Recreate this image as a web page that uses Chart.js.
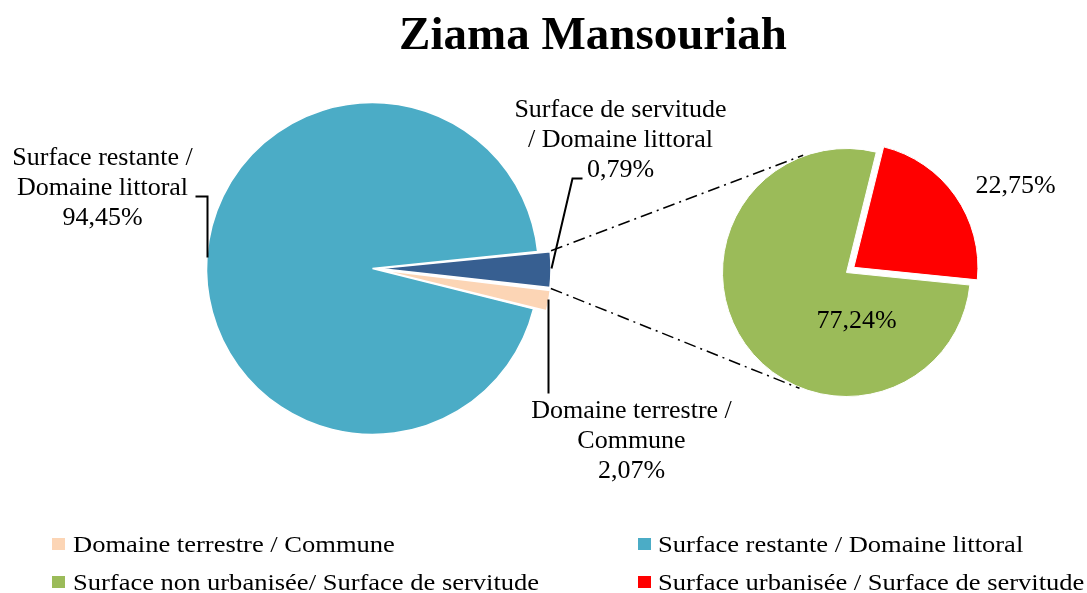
<!DOCTYPE html>
<html>
<head>
<meta charset="utf-8">
<script src="https://cdn.jsdelivr.net/npm/chart.js@4.4.1/dist/chart.umd.min.js"></script>
<style>
html,body{margin:0;padding:0;background:#fff;}
#wrap{position:relative;width:1087px;height:593px;overflow:hidden;font-family:"Liberation Serif","Times New Roman",serif;color:#000;}
canvas{position:absolute;left:0;top:0;}
#title{position:absolute;left:593px;top:10px;transform:translateX(-50%);white-space:nowrap;font-weight:bold;font-size:47px;line-height:47px;}
.lt{position:absolute;white-space:nowrap;font-size:24px;line-height:24px;transform:scaleX(1.105);transform-origin:0 0;}
.lm{position:absolute;width:13px;height:12px;}
</style>
</head>
<body>
<div id="wrap">
  <canvas id="mainPie" width="1087" height="593"></canvas>
  <canvas id="subPie" width="1087" height="593"></canvas>
  <div id="title"></div>
  <div id="legend"></div>
</div>
<script>
// ---------- data ----------
const titleText = 'Ziama Mansouriah';

// main pie (slice order clockwise from the right-hand side)
const mainCategories = ['Surface de servitude / Domaine littoral', 'Domaine terrestre / Commune', 'Surface restante / Domaine littoral'];
const mainValues = [3.48, 2.07, 94.45];
const mainPctLabels = ['0,79%', '2,07%', '94,45%'];
const mainColors = ['#375F91', '#FCD5B5', '#4BACC6'];

// secondary pie (breakdown of "Surface de servitude")
const subCategories = ['Surface urbanisée / Surface de servitude', 'Surface non urbanisée/ Surface de servitude'];
const subValues = [22.75, 77.24];
const subPctLabels = ['22,75%', '77,24%'];
const subColors = ['#FF0000', '#9BBB59'];

// legend entries (in the reference order)
const legendLabels = ['Domaine terrestre / Commune', 'Surface restante / Domaine littoral', 'Surface non urbanisée/ Surface de servitude', 'Surface urbanisée / Surface de servitude'];
const legendColors = ['#FCD5B5', '#4BACC6', '#9BBB59', '#FF0000'];

// ---------- layout ----------
const W = 1087, H = 593;
const mainOffsets = [28, 28, 0];
const subOffsets = [36, 0];
const labelFont = '26px "Liberation Serif", "Times New Roman", serif';
const lineH = 30;

document.getElementById('title').textContent = titleText;

// legend (HTML text)
const legendPos = [
  {mx: 52, my: 538, tx: 73, ty: 532},
  {mx: 638, my: 538, tx: 658, ty: 532},
  {mx: 52, my: 576, tx: 73, ty: 570},
  {mx: 638, my: 576, tx: 658, ty: 570}
];
const legEl = document.getElementById('legend');
legendLabels.forEach((lab, i) => {
  const p = legendPos[i];
  const m = document.createElement('div');
  m.className = 'lm';
  m.style.left = p.mx + 'px'; m.style.top = p.my + 'px';
  m.style.background = legendColors[i];
  legEl.appendChild(m);
  const t = document.createElement('div');
  t.className = 'lt';
  t.style.left = p.tx + 'px'; t.style.top = p.ty + 'px';
  t.textContent = lab;
  legEl.appendChild(t);
});

function drawLines(ctx, lines, cx, cy) {
  ctx.save();
  ctx.font = labelFont;
  ctx.fillStyle = '#000';
  ctx.textAlign = 'center';
  ctx.textBaseline = 'middle';
  lines.forEach((s, k) => ctx.fillText(s, cx, cy + k * lineH));
  ctx.restore();
}
function polyline(ctx, pts, dash) {
  ctx.save();
  ctx.strokeStyle = '#000';
  ctx.lineWidth = dash ? 1.5 : 2;
  if (dash) ctx.setLineDash(dash);
  ctx.beginPath();
  pts.forEach((p, i) => i ? ctx.lineTo(p[0], p[1]) : ctx.moveTo(p[0], p[1]));
  ctx.stroke();
  ctx.restore();
}

// arc geometry helpers (follow Chart.js ArcElement offset behaviour)
function arcCorners(arc, offsetOpt) {
  const t = (offsetOpt || 0) / 4;
  const mid = (arc.startAngle + arc.endAngle) / 2;
  const circ = arc.endAngle - arc.startAngle;
  const fix = 1 - Math.sin(Math.min(Math.PI, circ));
  const r = arc.outerRadius + t * fix + 1;
  const cx = arc.x + Math.cos(mid) * t, cy = arc.y + Math.sin(mid) * t;
  return {
    start: [cx + Math.cos(arc.startAngle) * r, cy + Math.sin(arc.startAngle) * r],
    end: [cx + Math.cos(arc.endAngle) * r, cy + Math.sin(arc.endAngle) * r]
  };
}

const mainLabelPlugin = {
  id: 'mainLabels',
  afterDraw(chart) {
    const ctx = chart.ctx;
    const arc = chart.getDatasetMeta(0).data[2];
    const cx = arc.x, cy = arc.y, R = arc.outerRadius;
    // Surface restante label + leader
    drawLines(ctx, ['Surface restante /', 'Domaine littoral', mainPctLabels[2]], cx - 270, cy - 110);
    polyline(ctx, [[cx - 177, cy - 72], [cx - 165, cy - 72], [cx - 165, cy - 11]]);
    // Surface de servitude label + leader
    drawLines(ctx, ['Surface de servitude', '/ Domaine littoral', mainPctLabels[0]], cx + 248, cy - 158);
    polyline(ctx, [[cx + 210, cy - 90], [cx + 200, cy - 90], [cx + 179, cy]]);
    // Domaine terrestre label + leader
    drawLines(ctx, ['Domaine terrestre /', 'Commune', mainPctLabels[1]], cx + 259, cy + 143);
    polyline(ctx, [[cx + 176, cy + 31], [cx + 176, cy + 125]]);
  }
};

const mainChart = new Chart(document.getElementById('mainPie'), {
  type: 'pie',
  data: {
    labels: mainCategories,
    datasets: [{
      data: mainValues,
      backgroundColor: mainColors,
      borderColor: '#ffffff',
      borderWidth: 1.5,
      offset: mainOffsets,
      radius: 166,
      rotation: 84.1
    }]
  },
  options: {
    responsive: false,
    animation: false,
    events: [],
    layout: {padding: {left: 172.5, right: W - 572.5, top: 68.5, bottom: H - 468.5}},
    plugins: {legend: {display: false}, tooltip: {enabled: false}, title: {display: false}}
  },
  plugins: [mainLabelPlugin]
});

const connectorAngles = [-110.3, 112.1]; // degrees (canvas) on the secondary pie rim

const subPlugin = {
  id: 'subLabels',
  afterDraw(chart) {
    const ctx = chart.ctx;
    const g = chart.getDatasetMeta(0).data[1];
    const cx = g.x, cy = g.y, R = g.outerRadius;
    // connectors from the servitude slice to the secondary pie
    const src = mainChart.getDatasetMeta(0).data[0];
    const c = arcCorners(src, mainOffsets[0]);
    const a1 = connectorAngles[0] * Math.PI / 180, a2 = connectorAngles[1] * Math.PI / 180;
    const dash = [12, 5, 2, 5];
    polyline(ctx, [c.start, [cx + Math.cos(a1) * (R + 1), cy + Math.sin(a1) * (R + 1)]], dash);
    polyline(ctx, [c.end, [cx + Math.cos(a2) * (R + 1), cy + Math.sin(a2) * (R + 1)]], dash);
    // value labels
    drawLines(ctx, [subPctLabels[1]], cx + 10, cy + 49);
    drawLines(ctx, [subPctLabels[0]], cx + 169, cy - 86);
  }
};

new Chart(document.getElementById('subPie'), {
  type: 'pie',
  data: {
    labels: subCategories,
    datasets: [{
      data: subValues,
      backgroundColor: subColors,
      borderColor: '#ffffff',
      borderWidth: 1,
      offset: subOffsets,
      radius: 124,
      rotation: 13.9
    }]
  },
  options: {
    responsive: false,
    animation: false,
    events: [],
    layout: {padding: {left: 696.5, right: W - 996.5, top: 122.5, bottom: H - 422.5}},
    plugins: {legend: {display: false}, tooltip: {enabled: false}, title: {display: false}}
  },
  plugins: [subPlugin]
});
</script>
</body>
</html>
